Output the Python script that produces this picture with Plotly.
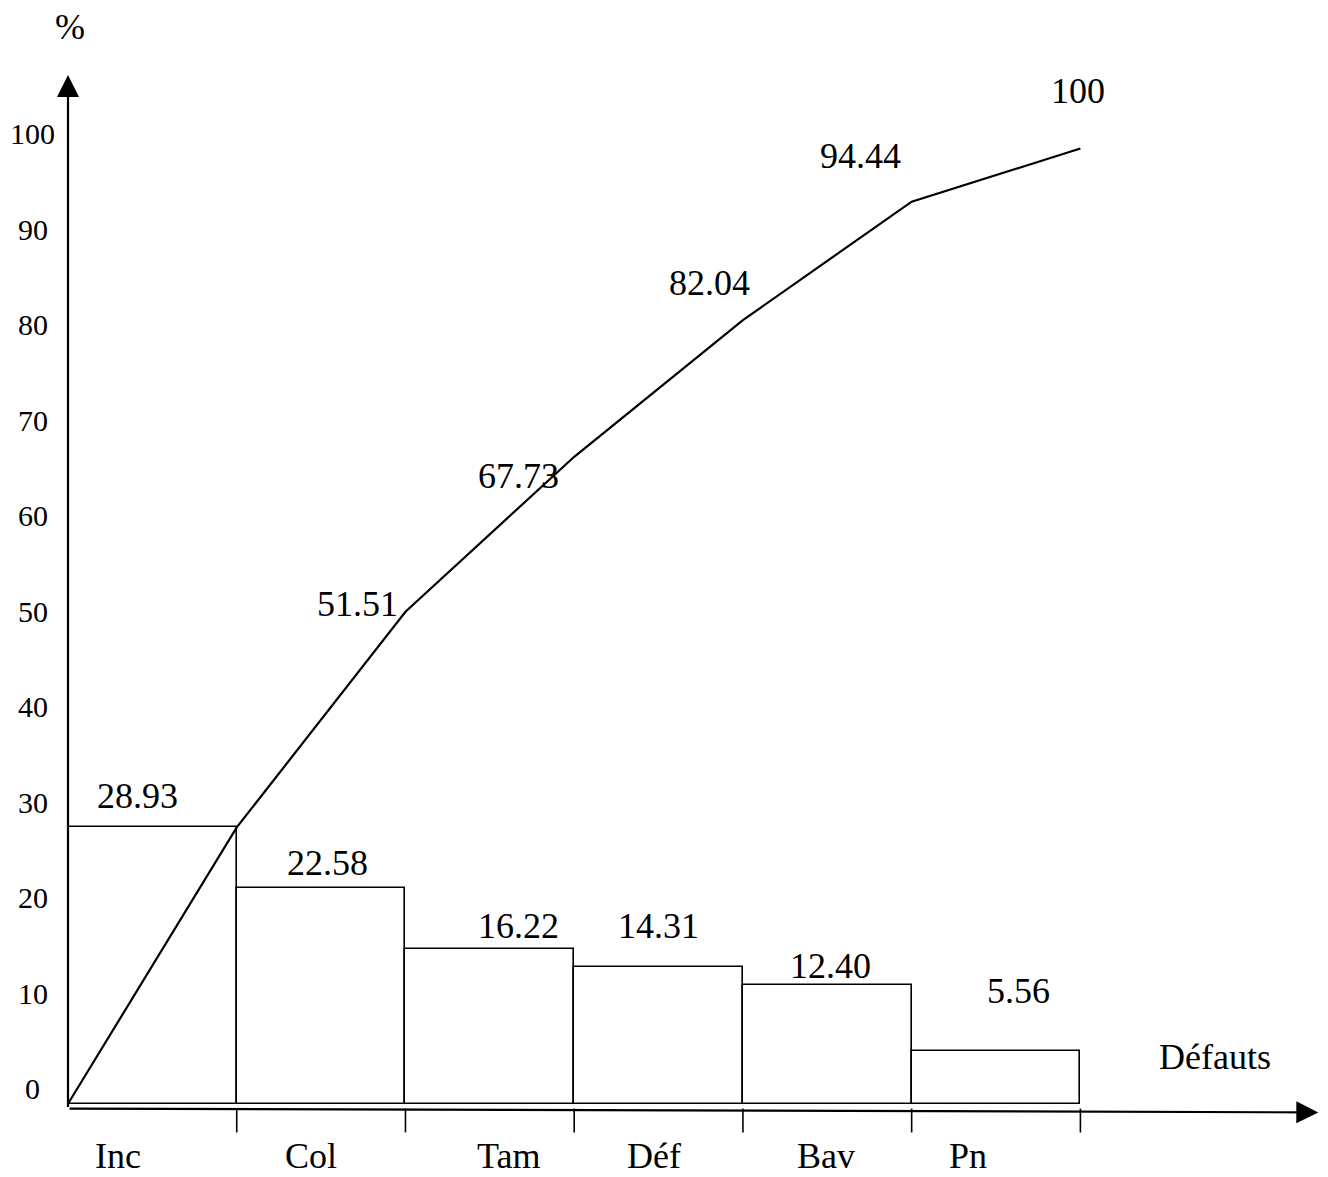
import plotly.graph_objects as go

# ---- data ----
categories = ["Inc", "Col", "Tam", "Déf", "Bav", "Pn"]
percent = [28.93, 22.58, 16.22, 14.31, 12.40, 5.56]
cumulative = [28.93, 51.51, 67.73, 82.04, 94.44, 100]
y_ticks = [0, 10, 20, 30, 40, 50, 60, 70, 80, 90, 100]
y_title = "%"
x_title = "Défauts"

# ---- label placement (layout only) ----
bar_label_pos = [(0.409, 32.24), (1.536, 25.23), (2.668, 18.63),
                 (3.498, 18.63), (4.518, 14.45), (5.632, 11.83)]
cum_label_pos = [None, (1.713, 52.34), (2.668, 65.74), (3.80, 85.94),
                 (4.696, 99.24), (5.988, 106.06)]
cat_label_x = [0.296, 1.441, 2.609, 3.474, 4.494, 5.336]

FONT = "Liberation Serif, Times New Roman, serif"
n = len(categories)
XR = [0, 7.42]
YR = [-4, 107.7]


def px(x):
    return (x - XR[0]) / (XR[1] - XR[0])


def py(y):
    return (y - YR[0]) / (YR[1] - YR[0])


fig = go.Figure()
fig.add_trace(go.Bar(
    x=[i + 0.5 for i in range(n)], y=percent, width=1,
    marker=dict(color="white", line=dict(color="black", width=1.6)),
    hoverinfo="skip", showlegend=False))
fig.add_trace(go.Scatter(
    x=list(range(n + 1)), y=[0] + cumulative, mode="lines",
    line=dict(color="black", width=2.2), showlegend=False, hoverinfo="skip"))

ann = []
# axes arrows
ann.append(dict(x=0, y=107.7, ax=0, ay=-0.5, xref="x", yref="y", axref="x", ayref="y",
                showarrow=True, arrowhead=2, arrowsize=2.0, arrowwidth=2.2,
                arrowcolor="black", text="", standoff=0))
ann.append(dict(x=7.41, y=-0.9, ax=0, ay=-0.5, xref="x", yref="y", axref="x", ayref="y",
                showarrow=True, arrowhead=2, arrowsize=2.0, arrowwidth=2.2,
                arrowcolor="black", text="", standoff=0))

C = dict(xanchor="center", yanchor="middle", showarrow=False)
# y tick labels
for v in y_ticks:
    ann.append(dict(x=px(-0.2075), y=py(v), xref="paper", yref="paper", text=str(v),
                    yshift=15, font=dict(family=FONT, size=30, color="black"), **C))
# bar labels
for (x, y), v in zip(bar_label_pos, percent):
    ann.append(dict(x=x, y=y, xref="x", yref="y", text=f"{v:.2f}",
                    font=dict(family=FONT, size=36, color="black"), **C))
# cumulative labels
for pos, v in zip(cum_label_pos, cumulative):
    if pos is None:
        continue
    txt = f"{v:.2f}" if v != 100 else "100"
    ann.append(dict(x=pos[0], y=pos[1], xref="x", yref="y", text=txt,
                    font=dict(family=FONT, size=36, color="black"), **C))
# category labels
for x, c in zip(cat_label_x, categories):
    ann.append(dict(x=px(x), y=py(-5.45), xref="paper", yref="paper", text=c,
                    font=dict(family=FONT, size=36, color="black"), **C))
# axis titles
ann.append(dict(x=px(0.01), y=py(112.7), xref="paper", yref="paper", text=y_title,
                font=dict(family=FONT, size=36, color="black"), **C))
ann.append(dict(x=6.80, y=4.92, xref="x", yref="y", text=x_title,
                font=dict(family=FONT, size=36, color="black"), **C))

# tick marks under x axis at bar edges
shapes = []
for i in range(1, n + 1):
    shapes.append(dict(type="line", xref="x", yref="y", x0=i, x1=i, y0=-0.5, y1=-3.0,
                       line=dict(color="black", width=1.6)))

fig.update_layout(
    width=1320, height=1169,
    margin=dict(l=60, r=8, t=67, b=35),
    paper_bgcolor="white", plot_bgcolor="white",
    xaxis=dict(range=XR, visible=False, fixedrange=True),
    yaxis=dict(range=YR, visible=False, fixedrange=True),
    annotations=ann, shapes=shapes, bargap=0,
)

fig.write_html("out.html")
